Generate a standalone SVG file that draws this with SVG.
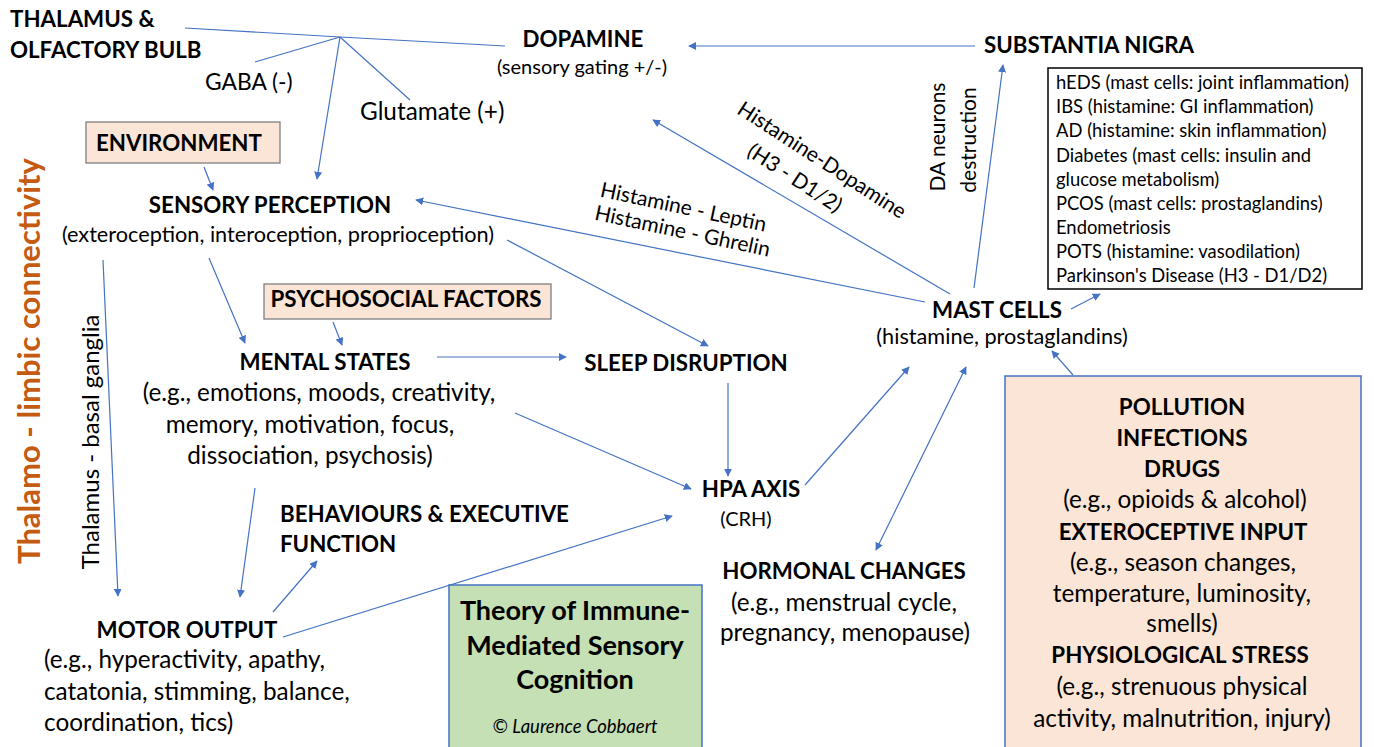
<svg xmlns="http://www.w3.org/2000/svg" width="1374" height="747" viewBox="0 0 1374 747">
<style>
text{font-family:Lato,"Liberation Sans",sans-serif;fill:#000}
.b{font-weight:bold;font-size:22.3px}
.r{font-size:20px}
.r2{font-size:21.7px}
.r3{font-size:24.3px}
.s{font-size:18.4px}
.m{text-anchor:middle}
.t{font-weight:bold;font-size:27px}
.c line,.c path{stroke:#4472c4;stroke-width:1.2;fill:none}
.peach{fill:#fbe5d6;stroke:#7f7f7f;stroke-width:1.3}
</style>
<defs>
<marker id="ah" viewBox="0 0 10 10" refX="9" refY="5" markerWidth="8" markerHeight="8" markerUnits="userSpaceOnUse" orient="auto-start-reverse">
<path d="M0,0 L10,5 L0,10 z" fill="#4472c4"/>
</marker>
</defs>
<rect width="1374" height="747" fill="#fff"/>

<g id="connectors" class="c">
<path d="M185,28 L340,37 L505,46"/>
<line x1="340" y1="37" x2="255" y2="62"/>
<line x1="340" y1="37" x2="410" y2="100"/>
<line x1="340" y1="37" x2="317" y2="179" marker-end="url(#ah)"/>
<line x1="975" y1="46" x2="689" y2="46" marker-end="url(#ah)"/>
<line x1="974" y1="288" x2="1003" y2="65" marker-end="url(#ah)"/>
<line x1="1071" y1="309" x2="1100" y2="294" marker-end="url(#ah)"/>
<line x1="950" y1="294" x2="653" y2="120" marker-end="url(#ah)"/>
<line x1="925" y1="302" x2="416" y2="200" marker-end="url(#ah)"/>
<line x1="204" y1="167" x2="213" y2="190" marker-end="url(#ah)"/>
<line x1="209" y1="258" x2="245" y2="343" marker-end="url(#ah)"/>
<line x1="507" y1="240" x2="708" y2="346" marker-end="url(#ah)"/>
<line x1="333" y1="322" x2="342" y2="345" marker-end="url(#ah)"/>
<line x1="437" y1="357" x2="566" y2="357" marker-end="url(#ah)"/>
<line x1="728" y1="383" x2="728" y2="476" marker-end="url(#ah)"/>
<line x1="515" y1="413" x2="691" y2="489" marker-end="url(#ah)"/>
<line x1="805" y1="485" x2="909" y2="367" marker-end="url(#ah)"/>
<line x1="876" y1="550" x2="966" y2="367" marker-start="url(#ah)" marker-end="url(#ah)"/>
<line x1="1073" y1="375" x2="1052" y2="351" marker-end="url(#ah)"/>
<line x1="103" y1="260" x2="118" y2="596" marker-end="url(#ah)"/>
<line x1="255" y1="488" x2="240" y2="597" marker-end="url(#ah)"/>
<line x1="273" y1="612" x2="317" y2="561" marker-end="url(#ah)"/>
<line x1="283" y1="637" x2="672" y2="516" marker-end="url(#ah)"/>
</g>

<g id="thalamo-limbic">
<text transform="translate(40,361) rotate(-90)" class="m" style="font-weight:bold;font-size:31px;fill:#c55a11">Thalamo - limbic connectivity</text>
</g>
<g id="thalamus-basal-label">
<text transform="translate(99,442) rotate(-90)" class="m" style="font-size:24px">Thalamus - basal ganglia</text>
</g>

<g id="thalamus">
<text x="10" y="27" class="b">THALAMUS &amp;</text>
<text x="10" y="58" class="b">OLFACTORY BULB</text>
</g>
<g id="gaba"><text x="205" y="90" style="font-size:22.8px">GABA (-)</text></g>
<g id="glutamate"><text x="360" y="120" class="r3">Glutamate (+)</text></g>

<g id="dopamine">
<text x="583" y="47" class="b m">DOPAMINE</text>
<text x="582" y="74" class="r m">(sensory gating +/-)</text>
</g>

<g id="substantia-nigra">
<text x="1089" y="53" class="b m">SUBSTANTIA NIGRA</text>
</g>

<g id="da-label">
<text transform="translate(945,137) rotate(-90)" class="m" style="font-size:21px">DA neurons</text>
<text transform="translate(976,140) rotate(-90)" class="m" style="font-size:21px">destruction</text>
</g>

<g id="conditions">
<rect x="1048" y="68" width="314" height="221" fill="#fff" stroke="#000" stroke-width="1.5"/>
<text x="1056" y="89" class="s">hEDS (mast cells: joint inflammation)</text>
<text x="1056" y="113" class="s">IBS (histamine: GI inflammation)</text>
<text x="1056" y="137" class="s">AD (histamine: skin inflammation)</text>
<text x="1056" y="162" class="s">Diabetes (mast cells: insulin and</text>
<text x="1056" y="186" class="s">glucose metabolism)</text>
<text x="1056" y="210" class="s">PCOS (mast cells: prostaglandins)</text>
<text x="1056" y="234" class="s">Endometriosis</text>
<text x="1056" y="258" class="s">POTS (histamine: vasodilation)</text>
<text x="1056" y="282" class="s">Parkinson's Disease (H3 - D1/D2)</text>
</g>

<g id="hist-dopa-label">
<text transform="translate(818,166) rotate(33)" class="m" style="font-size:21px">Histamine-Dopamine</text>
<text transform="translate(791,184) rotate(33)" class="m" style="font-size:21px">(H3 - D1/2)</text>
</g>
<g id="hist-leptin-label">
<text transform="translate(682,214) rotate(12)" class="m" style="font-size:21px">Histamine - Leptin</text>
<text transform="translate(681,238) rotate(12)" class="m" style="font-size:21px">Histamine - Ghrelin</text>
</g>

<g id="environment">
<rect x="86" y="122" width="194" height="41" class="peach"/>
<text x="96" y="151" class="b">ENVIRONMENT</text>
</g>

<g id="sensory-perception">
<text x="270" y="213" class="b m">SENSORY PERCEPTION</text>
<text x="278" y="242" class="r2 m">(exteroception, interoception, proprioception)</text>
</g>

<g id="psychosocial">
<rect x="264" y="284" width="287" height="35" class="peach"/>
<text x="406" y="307" class="b m">PSYCHOSOCIAL FACTORS</text>
</g>

<g id="mental-states">
<text x="325" y="370" class="b m">MENTAL STATES</text>
<text x="319" y="401" class="r3 m">(e.g., emotions, moods, creativity,</text>
<text x="310" y="433" class="r3 m">memory, motivation, focus,</text>
<text x="310" y="464" class="r3 m">dissociation, psychosis)</text>
</g>

<g id="sleep">
<text x="686" y="371" class="b m">SLEEP DISRUPTION</text>
</g>

<g id="hpa">
<text x="751" y="497" class="b m">HPA AXIS</text>
<text x="746" y="526" class="r m">(CRH)</text>
</g>

<g id="hormonal">
<text x="844" y="579" class="b m">HORMONAL CHANGES</text>
<text x="844" y="611" class="r3 m">(e.g., menstrual cycle,</text>
<text x="845" y="641" class="r3 m">pregnancy, menopause)</text>
</g>

<g id="mast-cells">
<text x="997" y="318" class="b m">MAST CELLS</text>
<text x="1002" y="344" class="r2 m">(histamine, prostaglandins)</text>
</g>

<g id="triggers">
<rect x="1005" y="376" width="356" height="380" fill="#fbe5d6" stroke="#4472c4" stroke-width="1.5"/>
<text x="1182" y="415" class="b m">POLLUTION</text>
<text x="1182" y="446" class="b m">INFECTIONS</text>
<text x="1182" y="477" class="b m">DRUGS</text>
<text x="1185" y="508" class="r3 m">(e.g., opioids &amp; alcohol)</text>
<text x="1183" y="540" class="b m">EXTEROCEPTIVE INPUT</text>
<text x="1183" y="571" class="r3 m">(e.g., season changes,</text>
<text x="1182" y="602" class="r3 m">temperature, luminosity,</text>
<text x="1182" y="632" class="r3 m">smells)</text>
<text x="1180" y="663" class="b m">PHYSIOLOGICAL STRESS</text>
<text x="1182" y="695" class="r3 m">(e.g., strenuous physical</text>
<text x="1182" y="727" class="r3 m">activity, malnutrition, injury)</text>
</g>

<g id="motor-output">
<text x="187" y="638" class="b m">MOTOR OUTPUT</text>
<text x="44" y="668" class="r3">(e.g., hyperactivity, apathy,</text>
<text x="44" y="700" class="r3">catatonia, stimming, balance,</text>
<text x="44" y="731" class="r3">coordination, tics)</text>
</g>

<g id="behaviours">
<text x="280" y="522" class="b">BEHAVIOURS &amp; EXECUTIVE</text>
<text x="280" y="552" class="b">FUNCTION</text>
</g>

<g id="title">
<rect x="449" y="585" width="253" height="170" fill="#c5e0b4" stroke="#4472c4" stroke-width="1.5"/>
<text x="575" y="620" class="m t">Theory of Immune-</text>
<text x="575" y="655" class="m t">Mediated Sensory</text>
<text x="575" y="689" class="m t">Cognition</text>
<text x="575" y="733" class="m" style="font-style:italic;font-size:18.5px">© Laurence Cobbaert</text>
</g>
</svg>
